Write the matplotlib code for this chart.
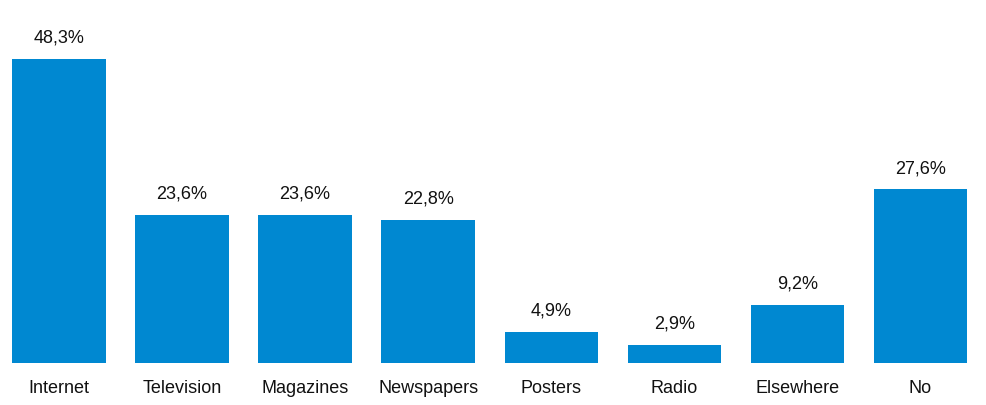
import matplotlib
matplotlib.use('Agg')
import matplotlib.pyplot as plt
from matplotlib import font_manager

# where people noticed the ad
categories = ['Internet', 'Television', 'Magazines', 'Newspapers', 'Posters', 'Radio', 'Elsewhere', 'No']
values = [48.3, 23.6, 23.6, 22.8, 4.9, 2.9, 9.2, 27.6]
labels = ['48,3%', '23,6%', '23,6%', '22,8%', '4,9%', '2,9%', '9,2%', '27,6%']

names = {f.name for f in font_manager.fontManager.ttflist}
fam = 'Liberation Sans Narrow' if 'Liberation Sans Narrow' in names else 'Liberation Sans'
plt.rcParams['font.family'] = [fam, 'DejaVu Sans']

BAR = '#0088d1'

fig = plt.figure(figsize=(9.86, 4.05), dpi=100)
ax = fig.add_axes([0, 42 / 405, 1, 363 / 405])

x = range(len(categories))
ax.bar(x, values, width=0.76, color=BAR)

for i, (v, t) in enumerate(zip(values, labels)):
    ax.text(i, v + 3.3, t, ha='center', va='center', fontsize=13, color='#111111')
    ax.text(i, -4.0, categories[i], ha='center', va='center', fontsize=13,
            color='#111111', clip_on=False)

ax.set_xlim(-0.479, 7.532)
ax.set_ylim(0, 57.7)
ax.axis('off')

fig.savefig('out.png', dpi=100)
